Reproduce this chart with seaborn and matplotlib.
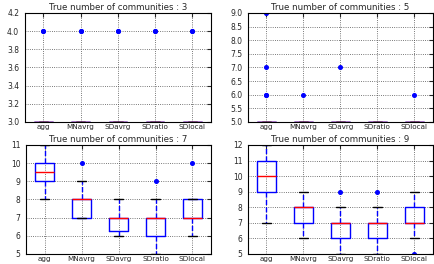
import matplotlib
matplotlib.use("Agg")
import matplotlib.pyplot as plt
import seaborn as sns
import pandas as pd
import numpy as np
from matplotlib.ticker import MultipleLocator, FormatStrFormatter

methods = ["agg", "MNavrg", "SDavrg", "SDratio", "SDlocal"]
true_k = [3, 5, 7, 9]

# estimated number of communities per run, per method, per panel
k3_agg = [3] * 18 + [4] * 2
k3_mnavrg = [3] * 18 + [4] * 2
k3_sdavrg = [3] * 18 + [4] * 2
k3_sdratio = [3] * 18 + [4] * 2
k3_sdlocal = [3] * 18 + [4] * 2

k5_agg = [5] * 15 + [6, 6, 7, 9]
k5_mnavrg = [5] * 19 + [6]
k5_sdavrg = [5] * 19 + [7]
k5_sdratio = [5] * 20
k5_sdlocal = [5] * 19 + [6]

k7_agg = [8, 8, 9, 9, 9, 9, 9, 9, 9, 9, 10, 10, 10, 10, 10, 10, 10, 11, 11, 11]
k7_mnavrg = [7] * 6 + [8] * 12 + [9, 10]
k7_sdavrg = [6] * 5 + [7] * 12 + [8]
k7_sdratio = [5] + [6] * 5 + [7] * 12 + [8, 9]
k7_sdlocal = [6] + [7] * 10 + [8] * 8 + [10]

k9_agg = [7, 7, 8, 8, 9, 9, 9, 10, 10, 10, 10, 10, 10, 11, 11, 11, 11, 12, 12, 12]
k9_mnavrg = [6] + [7] * 5 + [8] * 13 + [9]
k9_sdavrg = [5] + [6] * 5 + [7] * 12 + [8, 9]
k9_sdratio = [5] + [6] * 5 + [7] * 12 + [8, 9]
k9_sdlocal = [5, 6] + [7] * 9 + [8] * 8 + [9]

panels = [
    [k3_agg, k3_mnavrg, k3_sdavrg, k3_sdratio, k3_sdlocal],
    [k5_agg, k5_mnavrg, k5_sdavrg, k5_sdratio, k5_sdlocal],
    [k7_agg, k7_mnavrg, k7_sdavrg, k7_sdratio, k7_sdlocal],
    [k9_agg, k9_mnavrg, k9_sdavrg, k9_sdratio, k9_sdlocal],
]
ylims = [(3.0, 4.2), (5.0, 9.0), (5, 11), (5, 12)]
ysteps = [0.2, 0.5, 1, 1]
yfmts = ["%.1f", "%.1f", "%d", "%d"]

sns.set_style("white")
plt.rcParams["font.family"] = ["DejaVu Sans"]

fig = plt.figure(figsize=(4.35, 2.64), dpi=100)
rects = [
    [0.057, 0.538, 0.428, 0.413],
    [0.570, 0.538, 0.425, 0.413],
    [0.060, 0.038, 0.425, 0.413],
    [0.570, 0.038, 0.425, 0.413],
]

for i, (rect, vals) in enumerate(zip(rects, panels)):
    ax = fig.add_axes(rect)
    rows = []
    for m, v in zip(methods, vals):
        for x in v:
            rows.append({"method": m, "value": x})
    df = pd.DataFrame(rows)
    sns.boxplot(
        data=df, x="method", y="value", order=methods, ax=ax,
        fill=False, width=0.5, linewidth=1.0,
        boxprops=dict(color="blue", linewidth=1.0),
        medianprops=dict(color="red", linewidth=1.0),
        whiskerprops=dict(color="blue", linestyle="--", linewidth=1.0),
        capprops=dict(color="black", linewidth=1.0),
        flierprops=dict(marker="o", markerfacecolor="blue",
                        markeredgecolor="blue", markersize=2.6),
    )
    ax.set_ylim(*ylims[i])
    ax.set_xlim(-0.5, 4.5)
    ax.yaxis.set_major_locator(MultipleLocator(ysteps[i]))
    ax.yaxis.set_major_formatter(FormatStrFormatter(yfmts[i]))
    ax.grid(True, color="0.3", linestyle=":", linewidth=0.6)
    ax.set_axisbelow(True)
    ax.set_xlabel("")
    ax.set_ylabel("")
    ax.set_title("True number of communities : %d" % true_k[i], fontsize=6.2, pad=2)
    ax.tick_params(axis="both", direction="in", length=3,
                   top=True, right=True)
    ax.tick_params(axis="x", pad=1.3, labelsize=5.2)
    ax.tick_params(axis="y", pad=4, labelsize=5.5)
    for s in ax.spines.values():
        s.set_color("black")
        s.set_linewidth(0.8)

fig.savefig("out.png", dpi=100)
